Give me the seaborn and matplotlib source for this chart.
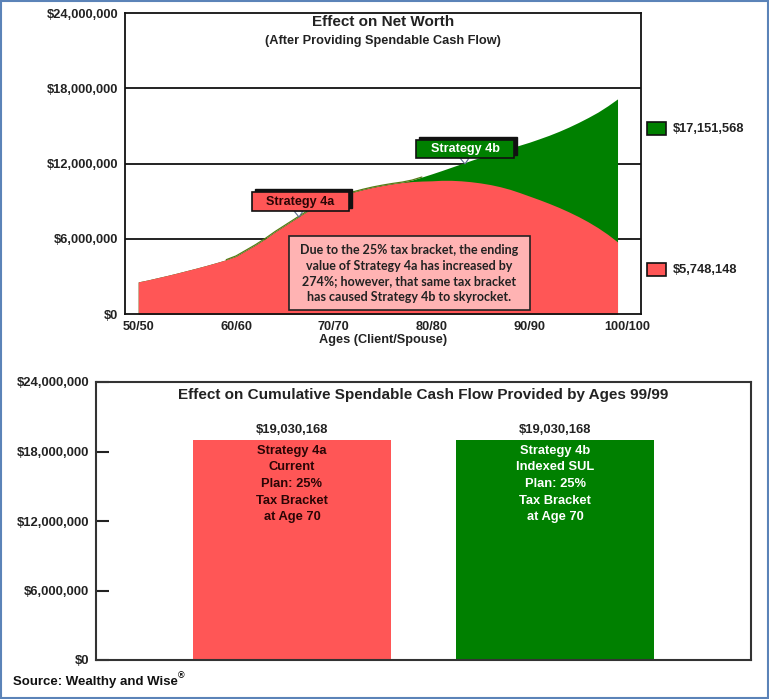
import matplotlib
matplotlib.use("Agg")
import matplotlib.pyplot as plt
import seaborn as sns
import pandas as pd
from matplotlib.patches import Rectangle, Polygon

# ---------------- data ----------------
ages = list(range(50, 100))
strategy_4a = [2.56, 2.72, 2.90, 3.08, 3.27, 3.47, 3.67, 3.88, 4.10, 4.33,
               4.60, 5.05, 5.50, 6.00, 6.55, 7.05, 7.55, 8.05, 8.50, 8.90,
               9.25, 9.50, 9.72, 9.92, 10.10, 10.25, 10.38, 10.49, 10.56, 10.60,
               10.62, 10.66, 10.66, 10.62, 10.55, 10.45, 10.32, 10.15, 9.94, 9.68,
               9.40, 9.12, 8.82, 8.50, 8.15, 7.77, 7.35, 6.88, 6.35, 5.748148]
strategy_4b = [2.56, 2.72, 2.90, 3.08, 3.27, 3.47, 3.67, 3.88, 4.10, 4.33,
               4.63, 5.08, 5.53, 6.03, 6.58, 7.08, 7.58, 8.08, 8.53, 8.93,
               9.28, 9.53, 9.75, 9.95, 10.13, 10.28, 10.41, 10.52, 10.68, 10.92,
               11.17, 11.43, 11.70, 11.97, 12.24, 12.50, 12.75, 13.00, 13.23, 13.46,
               13.70, 13.97, 14.25, 14.56, 14.90, 15.27, 15.67, 16.10, 16.60, 17.151568]
age_ticks = [50, 60, 70, 80, 90, 100]
age_tick_labels = ["50/50", "60/60", "70/70", "80/80", "90/90", "100/100"]
money_ticks = [0, 6e6, 12e6, 18e6, 24e6]
end_values = ["$17,151,568", "$5,748,148"]

bar_categories = ["Strategy 4a", "Strategy 4b"]
bar_values = [19030168, 19030168]
bar_texts = ["Strategy 4a\nCurrent\nPlan: 25%\nTax Bracket\nat Age 70",
             "Strategy 4b\nIndexed SUL\nPlan: 25%\nTax Bracket\nat Age 70"]

note_text = ("Due to the 25% tax bracket, the ending\n"
             "value of Strategy 4a has increased by\n"
             "274%; however, that same tax bracket\n"
             "has caused Strategy 4b to skyrocket.")

RED = "#FF5656"
GREEN = "#008000"
TXT = "#222222"

# ---------------- figure ----------------
sns.set_theme(style="white")
plt.rcParams["font.family"] = ["Liberation Sans", "DejaVu Sans"]
W, H = 769, 699
fig = plt.figure(figsize=(W / 100, H / 100), dpi=100)
fig.patch.set_facecolor("white")


def fx(x):
    return x / W


def fy(y):
    return 1 - y / H


def add_axes_px(l, t, r, b):
    return fig.add_axes([fx(l), fy(b), (r - l) / W, (b - t) / H])


# ---------------- top chart ----------------
df = pd.DataFrame({"age": ages,
                   "s4a": [v * 1e6 for v in strategy_4a],
                   "s4b": [v * 1e6 for v in strategy_4b]})

ax = add_axes_px(125, 13, 641, 314)
ax.fill_between(df["age"], 0, df["s4b"], color=GREEN, lw=0, zorder=2)
ax.fill_between(df["age"], 0, df["s4a"], color=RED, lw=0, zorder=3)
sns.lineplot(data=df[(df["age"] >= 59) & (df["age"] <= 79)], x="age", y="s4b", ax=ax,
             color="#557a15", lw=0.9, zorder=4)
ax.set_xlim(48.65, 101.4)
ax.set_ylim(0, 24e6)
ax.set_yticks(money_ticks)
ax.set_yticklabels(["${:,.0f}".format(v) for v in money_ticks],
                   fontsize=9.3, fontweight="bold", color=TXT)
ax.set_xticks(age_ticks)
ax.set_xticklabels(age_tick_labels, fontsize=9.2, fontweight="bold", color=TXT)
ax.tick_params(axis="both", length=0)
ax.tick_params(axis="y", pad=5)
ax.tick_params(axis="x", pad=5)
for v in money_ticks[1:-1]:
    ax.axhline(v, color="#111111", lw=1.3, zorder=1)
for s in ax.spines.values():
    s.set_color("#111111")
    s.set_linewidth(1.3)
    s.set_zorder(5)
ax.set_xlabel("Ages (Client/Spouse)", fontsize=9.2, fontweight="bold",
              color=TXT, labelpad=1)
ax.set_ylabel("")
ax.grid(False)

fig.text(fx(383), fy(22), "Effect on Net Worth", ha="center", va="center",
         fontsize=11, fontweight="bold", color=TXT)
fig.text(fx(383), fy(41), "(After Providing Spendable Cash Flow)", ha="center",
         va="center", fontsize=9.2, fontweight="bold", color=TXT)

# legend squares with ending values
for (yc, col, lab) in [(128.5, GREEN, end_values[0]), (269.5, RED, end_values[1])]:
    fig.add_artist(Rectangle((fx(647), fy(yc + 6.5)), 19 / W, 13 / H,
                             transform=fig.transFigure, facecolor=col,
                             edgecolor="#111111", lw=1.2))
    fig.text(fx(673), fy(yc), lab, ha="left", va="center", fontsize=9.3,
             fontweight="bold", color=TXT)


def label_box(l, t, r, b, fc, text, tc, tip):
    fig.add_artist(Rectangle((fx(l + 3), fy(b - 3)), (r - l) / W, (b - t) / H,
                             transform=fig.transFigure, facecolor="#111111",
                             edgecolor="#111111", lw=1, zorder=10))
    fig.add_artist(Rectangle((fx(l), fy(b)), (r - l) / W, (b - t) / H,
                             transform=fig.transFigure, facecolor=fc,
                             edgecolor="#111111", lw=1.2, zorder=11))
    fig.text(fx((l + r) / 2), fy((t + b) / 2), text, ha="center", va="center",
             fontsize=9.1, fontweight="bold", color=tc, zorder=12)
    tx, ty = tip
    fig.add_artist(Polygon([(fx(tx - 5), fy(b)), (fx(tx + 4), fy(b)), (fx(tx), fy(ty))],
                           closed=True, transform=fig.transFigure,
                           facecolor="white", edgecolor="#5a6a8a", lw=0.8, zorder=9))


label_box(252, 192, 349, 211, RED, "Strategy 4a", "#2a0505", (299, 217))
label_box(416, 140, 514, 158, GREEN, "Strategy 4b", "white", (465, 164))

# note box
fig.add_artist(Rectangle((fx(289), fy(310)), (530 - 289) / W, (310 - 236) / H,
                         transform=fig.transFigure, facecolor="#FFB3B3",
                         edgecolor="#222222", lw=1.2, zorder=10))
fig.text(fx(409.5), fy(273.5), note_text, ha="center", va="center",
         fontsize=9.0, fontweight="bold", family=["Lato", "DejaVu Sans"],
         color=TXT, linespacing=1.38, zorder=11)

# ---------------- bottom chart ----------------
bdf = pd.DataFrame({"strategy": bar_categories, "value": bar_values})
ax2 = add_axes_px(96, 382, 751, 660)
sns.barplot(data=bdf, x="strategy", y="value", hue="strategy",
            palette=[RED, GREEN], width=0.753, ax=ax2, legend=False,
            saturation=1, edgecolor="none")
ax2.set_xlim(-0.745, 1.745)
ax2.set_ylim(0, 24e6)
ax2.set_yticks(money_ticks)
ax2.set_yticklabels(["${:,.0f}".format(v) for v in money_ticks],
                    fontsize=9.4, fontweight="bold", color=TXT)
ax2.set_xticks([])
ax2.set_xlabel("")
ax2.set_ylabel("")
ax2.tick_params(axis="y", direction="in", length=9, width=1.5,
                color="#222222", pad=5, left=True)
for s in ax2.spines.values():
    s.set_color("#333333")
    s.set_linewidth(1.5)
ax2.grid(False)

for i, (val, txt) in enumerate(zip(bar_values, bar_texts)):
    ax2.text(i, val + 0.3e6, "${:,.0f}".format(val), ha="center", va="bottom",
             fontsize=9.4, fontweight="bold", color=TXT)
    ax2.text(i, val - 0.45e6, txt, ha="center", va="top", fontsize=9.3,
             fontweight="bold", color="#2a0505" if i == 0 else "white",
             linespacing=1.52)

fig.text(fx(423), fy(395), "Effect on Cumulative Spendable Cash Flow Provided by Ages 99/99",
         ha="center", va="center", fontsize=11, fontweight="bold", color=TXT)

# source + frame
src = fig.text(fx(13), fy(682), "Source: Wealthy and Wise", ha="left", va="center",
               fontsize=9.5, fontweight="bold", color="#111111")
fig.canvas.draw()
bb = src.get_window_extent()
fig.text(bb.x1 / W + 0.5 / W, fy(676), "\u00ae", ha="left", va="center",
         fontsize=6.5, fontweight="bold", color="#111111")
fig.add_artist(Rectangle((fx(1), fy(698)), 767 / W, 697 / H,
                         transform=fig.transFigure, facecolor="none",
                         edgecolor="#5B83B8", lw=1.5))

fig.savefig("out.png", dpi=100)
